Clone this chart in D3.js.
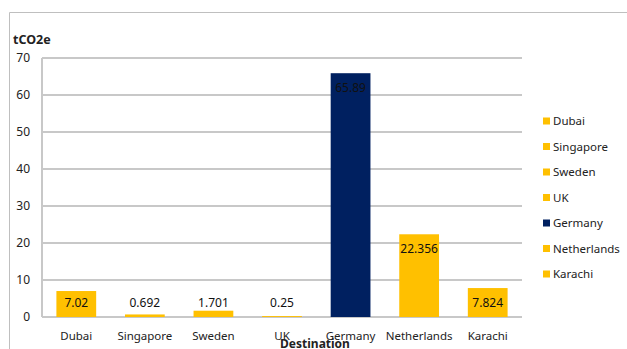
<!DOCTYPE html>
<html>
<head>
<meta charset="utf-8">
<script src="https://cdn.jsdelivr.net/npm/d3@7"></script>
<style>
  body { margin: 0; background: #fff; }
  svg text { font-family: "Noto Sans", "Open Sans", sans-serif; fill: #222; }
</style>
</head>
<body>
<svg id="chart" width="627" height="349"></svg>
<script>
var categories = ["Dubai", "Singapore", "Sweden", "UK", "Germany", "Netherlands", "Karachi"];
var values = [7.02, 0.692, 1.701, 0.25, 65.89, 22.356, 7.824];
var valueLabels = ["7.02", "0.692", "1.701", "0.25", "65.89", "22.356", "7.824"];
var colors = ["#FFC000", "#FFC000", "#FFC000", "#FFC000", "#002060", "#FFC000", "#FFC000"];
var yTicks = [0, 10, 20, 30, 40, 50, 60, 70];

var margin = { top: 58, left: 42 },
    width = 480,
    height = 259;

var svg = d3.select("#chart");

// outer frame (top and left edges only visible)
svg.append("path")
    .attr("d", "M9.5,349 L9.5,12.5 L627,12.5")
    .attr("fill", "none")
    .attr("stroke", "#bfbfbf")
    .attr("stroke-width", 1);

var g = svg.append("g")
    .attr("transform", "translate(" + margin.left + "," + margin.top + ")");

var xScale = d3.scaleBand()
    .domain(categories)
    .range([0, width])
    .paddingInner(0.42)
    .paddingOuter(0.21);

var yScale = d3.scaleLinear()
    .domain([0, 70])
    .range([height, 0]);

// gridlines
g.selectAll(".grid")
    .data(yTicks)
    .enter().append("line")
    .attr("x1", 0)
    .attr("x2", width)
    .attr("y1", function (d) { return yScale(d); })
    .attr("y2", function (d) { return yScale(d); })
    .attr("stroke", "#c8c8c8")
    .attr("stroke-width", 2);

// y axis line
g.append("line")
    .attr("x1", 0).attr("x2", 0)
    .attr("y1", 0).attr("y2", height)
    .attr("stroke", "#c8c8c8")
    .attr("stroke-width", 2);

// y tick labels
g.selectAll(".ylab")
    .data(yTicks)
    .enter().append("text")
    .attr("x", -12)
    .attr("y", function (d) { return yScale(d); })
    .attr("dy", "0.35em")
    .attr("text-anchor", "end")
    .style("font-size", "12px")
    .text(function (d) { return d; });

// bars
g.selectAll(".bar")
    .data(values)
    .enter().append("rect")
    .attr("x", function (d, i) { return xScale(categories[i]); })
    .attr("width", xScale.bandwidth())
    .attr("y", function (d) { return yScale(d); })
    .attr("height", function (d) { return height - yScale(d); })
    .attr("fill", function (d, i) { return colors[i]; });

// value labels
g.selectAll(".vlab")
    .data(values)
    .enter().append("text")
    .attr("x", function (d, i) { return xScale(categories[i]) + xScale.bandwidth() / 2; })
    .attr("y", function (d) { return Math.min(yScale(d) + 15, height - 14); })
    .attr("dy", "0.35em")
    .attr("text-anchor", "middle")
    .style("font-size", "12px")
    .style("fill", "#111")
    .text(function (d, i) { return valueLabels[i]; });

// category labels
g.selectAll(".xlab")
    .data(categories)
    .enter().append("text")
    .attr("x", function (d) { return xScale(d) + xScale.bandwidth() / 2; })
    .attr("y", height + 23)
    .attr("text-anchor", "middle")
    .style("font-size", "11.5px")
    .text(function (d) { return d; });

// axis titles
svg.append("text")
    .attr("x", 13)
    .attr("y", 44)
    .style("font-size", "12.5px")
    .style("font-weight", "bold")
    .text("tCO2e");

svg.append("text")
    .attr("x", 315)
    .attr("y", 348)
    .attr("text-anchor", "middle")
    .style("font-size", "12px")
    .style("font-weight", "bold")
    .text("Destination");

// legend
var legend = svg.append("g")
    .attr("transform", "translate(543,121)");

var item = legend.selectAll(".item")
    .data(categories)
    .enter().append("g")
    .attr("transform", function (d, i) { return "translate(0," + (i * 25.5) + ")"; });

item.append("rect")
    .attr("x", 0)
    .attr("y", -3.5)
    .attr("width", 7)
    .attr("height", 7)
    .attr("fill", function (d, i) { return colors[i]; });

item.append("text")
    .attr("x", 10)
    .attr("y", 0)
    .attr("dy", "0.35em")
    .style("font-size", "11.5px")
    .text(function (d) { return d; });
</script>
</body>
</html>
